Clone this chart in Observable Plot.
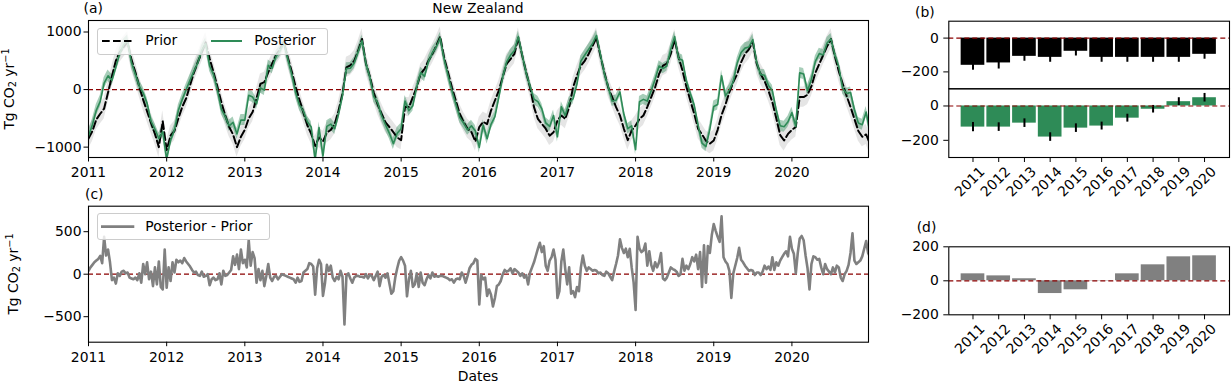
<!DOCTYPE html>
<html><head><meta charset="utf-8">
<script src="https://cdn.jsdelivr.net/npm/d3@7"></script>
<script src="https://cdn.jsdelivr.net/npm/@observablehq/plot@0.6"></script>
<style>
body{margin:0;background:#fff;}
#fig{position:relative;width:1231px;height:384px;font-family:"DejaVu Sans",sans-serif;font-size:13.9px;color:#000;overflow:hidden;background:#fff}
#fig svg{position:absolute;left:0;top:0}
.t{position:absolute;white-space:nowrap;line-height:13.9px}
.leg{position:absolute;background:rgba(255,255,255,0.8);border:1px solid #cccccc;border-radius:3px;box-sizing:border-box}
.sub{font-size:70%;vertical-align:-0.25em;line-height:0}
.sup{font-size:70%;vertical-align:0.5em;line-height:0}
</style></head><body><div id="fig"></div>
<script>
// ---------- data ----------
const years = [2011, 2012, 2013, 2014, 2015, 2016, 2017, 2018, 2019, 2020];

// Prior flux, 20 samples per year from 2011.00 (Tg CO2 / yr), last value at 2021.00
const priorValues = [
 -850,-720,-520,-420,-330,-50,230,500,650,740,830,520,300,50,-180,-380,-580,-770,-1000,-550,
 -1050,-800,-720,-500,-300,-150,75,300,480,650,820,540,300,50,-220,-450,-650,-780,-1000,-820,
 -700,-500,-390,-150,100,130,300,450,600,700,830,560,320,50,-180,-400,-620,-770,-980,-830,
 -900,-750,-700,-600,-365,-75,385,420,500,675,880,450,230,-50,-260,-420,-570,-650,-740,-830,
 -880,-300,-305,-130,40,275,360,500,620,760,920,560,300,40,-190,-420,-565,-680,-740,-900,
 -650,-560,-600,-365,-190,-17,215,445,530,620,900,590,300,40,-305,-510,-595,-680,-800,-740,
 -540,-450,-510,-305,40,245,415,500,620,760,900,590,300,40,-130,-305,-450,-680,-880,-710,
 -625,-510,-450,-300,-130,40,270,415,450,620,870,560,330,50,-190,-420,-680,-780,-890,-940,
 -885,-700,-440,-260,-45,130,270,475,620,700,830,450,270,150,-20,-220,-500,-790,-885,-770,
 -700,-650,-130,-130,-90,60,290,445,600,750,880,580,320,100,-110,-300,-510,-720,-820,-780,
 -950];

// Posterior - Prior, 40 samples per year from 2011.00, last value at 2021.00
const diffValues = [
 40,80,110,140,160,180,215,130,440,220,290,140,-70,-40,-110,10,-20,30,40,10,20,-40,-50,-60,-40,-70,10,-100,120,0,140,-60,30,-140,80,-120,150,-150,-180,290,
 -160,80,-80,140,20,170,140,160,130,190,150,120,90,50,20,30,-10,-20,30,-30,-20,0,-130,-60,-40,-70,-60,10,-120,40,-20,-10,20,50,210,110,230,60,290,130,
 170,80,400,100,260,190,-100,60,-70,40,-140,-20,120,-40,-80,-30,-20,-60,-30,0,-10,-20,-30,-40,-50,-60,-100,-40,-90,-80,20,40,60,130,120,90,-240,70,170,120,
 -255,-110,110,40,100,-40,-80,-30,-60,40,-30,-590,-20,10,-50,-100,-40,-20,-20,-30,-30,-40,0,-50,-10,-20,-70,-20,30,-140,-30,-10,-40,10,-110,-230,-200,-40,70,160,
 200,160,100,-260,-60,40,-150,-120,10,-150,20,-100,-130,-60,-10,-50,20,-30,-20,-30,-20,-20,-30,-40,-50,-70,-60,-100,-60,-50,-60,20,-20,-100,-20,70,110,130,180,160,
 -355,-10,-60,-40,-255,-180,-240,-380,-280,-140,-120,-80,0,50,30,40,70,10,60,40,20,-20,10,-40,-10,-120,20,80,140,220,300,370,260,330,100,40,160,200,290,170,
 -280,-200,150,290,60,-120,80,-230,-200,-270,-150,-200,80,220,100,40,80,60,40,50,40,10,20,-10,-20,30,10,-30,-70,30,120,220,410,310,250,300,200,300,80,-100,
 -420,440,300,260,280,360,100,270,110,40,140,80,140,250,-50,-70,-40,20,80,60,50,30,-20,0,180,40,100,60,120,200,150,230,60,260,-150,340,-100,330,250,460,
 590,510,440,380,680,200,150,120,40,-280,10,100,190,310,170,140,100,70,40,50,40,-10,20,20,-10,30,100,60,90,50,200,50,140,100,160,200,240,270,210,440,
 300,240,10,250,420,450,400,220,70,-180,120,210,200,170,180,80,0,120,60,30,0,80,20,100,80,-40,-80,0,40,110,250,480,160,120,140,160,210,300,390,250,
 200];

// one-sigma uncertainty per year
const priorUnc = [180, 170, 170, 175, 165, 170, 170, 175, 180, 175];
const postUnc  = [100, 95, 95, 100, 95, 95, 90, 90, 95, 95];

// annual totals (Tg CO2 / yr)
const priorAnnual    = [-161, -147, -108, -114, -78, -114, -114, -114, -114, -96];
const priorAnnualErr = [29, 36, 29, 29, 28, 29, 29, 29, 29, 29];
const postAnnual     = [-123, -123, -100, -181, -129, -117, -71, -19, 25, 48];
const postAnnualErr  = [27, 25, 25, 25, 25, 23, 23, 22, 23, 25];
const diffAnnual     = [41, 29, 12, -75, -53, -2, 41, 94, 141, 147];

// ---------- tables ----------
const series = priorValues.map((v, i) => {
  const yi = Math.min(9, Math.floor(i / 20));
  const dv = diffValues[2 * i];
  return {t: 2011 + i / 20, prior: v, post: v + dv, uP: priorUnc[yi], uQ: postUnc[yi]};
});
const diffSeries = diffValues.map((v, i) => ({t: 2011 + i / 40, v}));
const bars = years.map((y, i) => ({year: y, prior: priorAnnual[i], pe: priorAnnualErr[i],
  post: postAnnual[i], qe: postAnnualErr[i], diff: diffAnnual[i]}));

// ---------- helpers ----------
const W = 1231, H = 384;
const fig = document.getElementById("fig");
const GREEN = "#2e8b57", RED = "#8b0000", GREY = "#808080";
const fmt = d => d < 0 ? "\u2212" + Math.abs(d) : String(d);
const baseStyle = {background: "transparent", fontFamily: '"DejaVu Sans", sans-serif', fontSize: "13.9px", color: "#000", overflow: "visible"};
function box(l, t, r, b) {
  return {width: W, height: H, marginLeft: l, marginTop: t, marginRight: W - r, marginBottom: H - b, style: baseStyle};
}
const zero = () => Plot.ruleY([0], {stroke: RED, strokeWidth: 1.2, strokeDasharray: "5,3"});
const frame = () => Plot.frame({stroke: "#000", strokeWidth: 1.1});
const timeX = {domain: [2011, 2020.98], ticks: years, tickFormat: d => String(d), tickSize: 4.5, tickPadding: 5.5, label: null};
const barX = {domain: [2010.06, 2020.97], label: null};

// ---------- (a) ----------
fig.appendChild(Plot.plot({
  ...box(88, 20, 868, 157),
  x: timeX,
  y: {domain: [-1180, 1200], ticks: [-1000, 0, 1000], tickFormat: fmt, tickSize: 4.5, tickPadding: 2.5, label: null},
  marks: [
    Plot.areaY(series, {x: "t", y1: d => d.prior - d.uP, y2: d => d.prior + d.uP, fill: "#cccccc", fillOpacity: 0.5, clip: true}),
    Plot.areaY(series, {x: "t", y1: d => d.post - d.uQ, y2: d => d.post + d.uQ, fill: GREEN, fillOpacity: 0.42, clip: true}),
    zero(),
    Plot.lineY(series, {x: "t", y: "prior", stroke: "#000", strokeWidth: 2, strokeDasharray: "7.7,3.3", clip: true}),
    Plot.lineY(series, {x: "t", y: "post", stroke: GREEN, strokeWidth: 1.6, clip: true}),
    frame()
  ]
}));

// ---------- (c) ----------
fig.appendChild(Plot.plot({
  ...box(88, 205.7, 868, 341.7),
  x: timeX,
  y: {domain: [-800, 800], ticks: [-500, 0, 500], tickFormat: fmt, tickSize: 4.5, tickPadding: 2.5, label: null},
  marks: [
    zero(),
    Plot.lineY(diffSeries, {x: "t", y: "v", stroke: GREY, strokeWidth: 2.6, clip: true}),
    frame()
  ]
}));

// ---------- (b) upper: prior ----------
fig.appendChild(Plot.plot({
  ...box(948.3, 20.7, 1229, 88.3),
  x: {...barX, axis: null},
  y: {domain: [-300, 100], ticks: [-200, 0], tickFormat: fmt, tickSize: 5, tickPadding: 5, label: null},
  marks: [
    Plot.rect(bars, {x1: d => d.year - 0.46, x2: d => d.year + 0.46, y1: d => 0, y2: "prior", fill: "#000"}),
    Plot.ruleX(bars, {x: "year", y1: d => d.prior - d.pe, y2: d => d.prior + d.pe, stroke: "#000", strokeWidth: 2}),
    zero(),
    frame()
  ]
}));

// ---------- (b) lower: posterior ----------
fig.appendChild(Plot.plot({
  ...box(948.3, 88.3, 1229, 157),
  x: {...barX, ticks: years, tickFormat: () => "", tickSize: 5},
  y: {domain: [-300, 100], ticks: [-200, 0], tickFormat: fmt, tickSize: 5, tickPadding: 5, label: null},
  marks: [
    Plot.rect(bars, {x1: d => d.year - 0.46, x2: d => d.year + 0.46, y1: d => 0, y2: "post", fill: GREEN}),
    Plot.ruleX(bars, {x: "year", y1: d => d.post - d.qe, y2: d => d.post + d.qe, stroke: "#000", strokeWidth: 2}),
    zero(),
    Plot.text(years, {x: d => d, frameAnchor: "bottom", dy: 27.5, rotate: -45, text: d => String(d), fontSize: 13.9}),
    frame()
  ]
}));

// ---------- (d) ----------
fig.appendChild(Plot.plot({
  ...box(948.3, 246.3, 1229, 314.3),
  x: {...barX, ticks: years, tickFormat: () => "", tickSize: 5},
  y: {domain: [-200, 200], ticks: [-200, 0, 200], tickFormat: fmt, tickSize: 5, tickPadding: 5, label: null},
  marks: [
    Plot.rect(bars, {x1: d => d.year - 0.46, x2: d => d.year + 0.46, y1: d => 0, y2: "diff", fill: GREY}),
    zero(),
    Plot.text(years, {x: d => d, frameAnchor: "bottom", dy: 27.5, rotate: -45, text: d => String(d), fontSize: 13.9}),
    frame()
  ]
}));

// ---------- texts ----------
function txt(html, left, top, center) {
  const d = document.createElement("div");
  d.className = "t";
  d.innerHTML = html;
  d.style.left = left + "px";
  d.style.top = top + "px";
  if (center) d.style.transform = "translateX(-50%)";
  fig.appendChild(d);
  return d;
}
function ylab(cx, cy) {
  const d = document.createElement("div");
  d.className = "t";
  d.innerHTML = 'Tg CO<span class="sub">2</span> yr<span class="sup">\u22121</span>';
  d.style.left = cx + "px";
  d.style.top = cy + "px";
  d.style.transform = "translate(-50%,-50%) rotate(-90deg)";
  fig.appendChild(d);
}
txt("(a)", 83.5, 1.7);
txt("New Zealand", 478, 1.7, true);
txt("(b)", 915, 5.5);
txt("(c)", 85, 188.2);
txt("(d)", 916.7, 220.5);
txt("Dates", 478, 370, true);
ylab(9.5, 88.5);
ylab(14, 273.7);

// ---------- legends ----------
function legBox(l, t, w, h) {
  const d = document.createElement("div");
  d.className = "leg";
  Object.assign(d.style, {left: l + "px", top: t + "px", width: w + "px", height: h + "px"});
  fig.appendChild(d);
}
function sample(x1, x2, y, stroke, width, dash) {
  const ns = "http://www.w3.org/2000/svg";
  const s = document.createElementNS(ns, "svg");
  s.setAttribute("width", W); s.setAttribute("height", H);
  s.style.position = "absolute"; s.style.left = "0"; s.style.top = "0";
  const l = document.createElementNS(ns, "line");
  l.setAttribute("x1", x1); l.setAttribute("x2", x2); l.setAttribute("y1", y); l.setAttribute("y2", y);
  l.setAttribute("stroke", stroke); l.setAttribute("stroke-width", width);
  if (dash) l.setAttribute("stroke-dasharray", dash);
  s.appendChild(l);
  fig.appendChild(s);
}
legBox(96.5, 28, 231.5, 26.5);
sample(102, 131.5, 41, "#000", 2, "7.7,3.3");
txt("Prior", 145.3, 34.3);
sample(211, 242, 41, GREEN, 2);
txt("Posterior", 254.3, 34.3);

legBox(97, 213.3, 173.3, 26.7);
sample(101, 134.3, 226.6, GREY, 2.6);
txt("Posterior - Prior", 145.3, 219.8);
</script></body></html>
